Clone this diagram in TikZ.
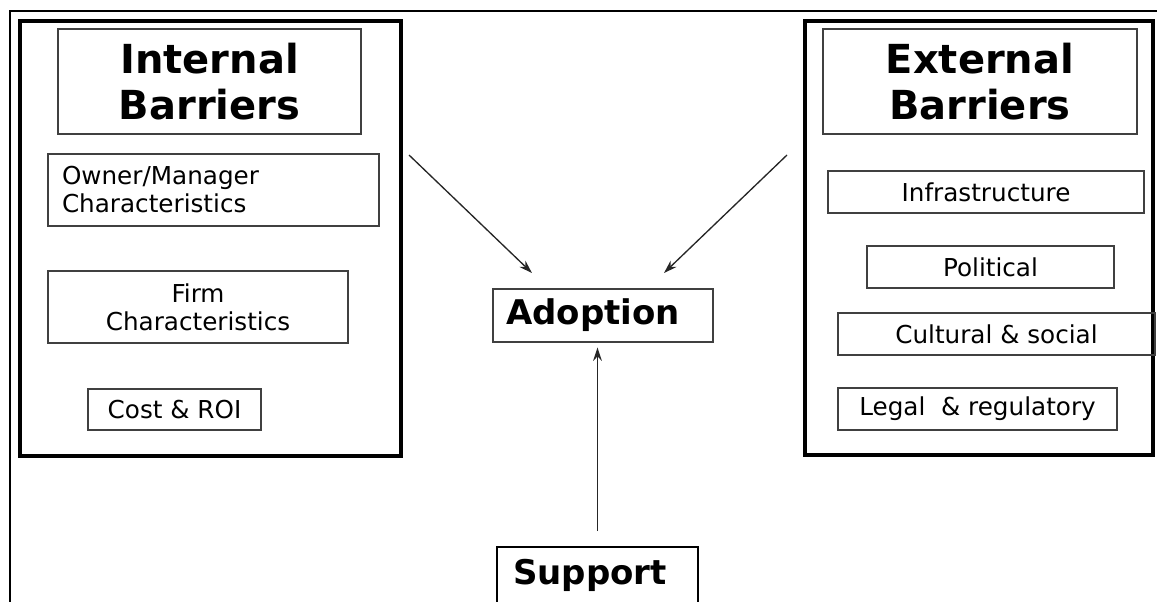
\documentclass[tikz,border=0pt]{standalone}
\usepackage{fontspec}
\setmainfont{DejaVu Sans}
\usetikzlibrary{positioning, arrows.meta}

\tikzset{
	bigbox/.style={draw, line width=2.6pt, inner sep=0pt},
	titlebox/.style={draw=black!75, line width=1.2pt, align=center, font=\bfseries\fontsize{30}{35}\selectfont},
	itembox/.style={draw=black!75, line width=1.2pt, align=center, inner sep=0pt, font=\fontsize{18.5}{21}\selectfont},
	keybox/.style={draw=black!75, line width=1.2pt, align=left, font=\bfseries\fontsize{25.5}{30}\selectfont},
	arr/.style={-{Stealth[length=10pt,width=6.5pt]}, line width=1pt, black!85}
}

\begin{document}
\begin{tikzpicture}[x=0.75pt, y=-0.75pt]
	\useasboundingbox (0,0) rectangle (1157,601);
	\draw[line width=1.4pt] (10,605) -- (10,11) -- (1160,11);
	\node[bigbox, minimum width=285.75pt, minimum height=326.25pt] (intbox) at (210.5,238.5) {};
	\node[titlebox, minimum width=227.25pt, minimum height=78.75pt] (inttitle) at (209.5,81.5) {Internal\\Barriers};
	\node[itembox, align=left, text width=227.25pt, inner xsep=10.5pt, minimum height=54pt] (owner) at (213.5,190) {Owner/Manager\\Characteristics};
	\node[itembox, minimum width=225pt, minimum height=54pt] (firm) at (198,307) {Firm\\Characteristics};
	\node[itembox, minimum width=129.75pt, minimum height=30.75pt] (cost) at (174.5,409.5) {Cost \& ROI};
	\node[bigbox, minimum width=261pt, minimum height=325.5pt] (extbox) at (979,238) {};
	\node[titlebox, minimum width=235.5pt, minimum height=78.75pt] (exttitle) at (980,81.5) {External\\Barriers};
	\node[itembox, minimum width=237pt, minimum height=31.5pt] (infra) at (986,192) {Infrastructure};
	\node[itembox, minimum width=185.25pt, minimum height=31.5pt] (political) at (990.5,267) {Political};
	\node[itembox, minimum width=237.75pt, minimum height=31.5pt] (cultural) at (996.5,334) {Cultural \& social};
	\node[itembox, minimum width=209.25pt, minimum height=31.5pt] (legal) at (977.5,409) {Legal\ \ \& regulatory};
	\node[keybox, text width=145.5pt, inner xsep=9.75pt, minimum height=39.75pt] (adoption) at (603,315.5) {Adoption};
	\node[keybox, draw=black, line width=1.8pt, text width=126.75pt, inner xsep=12pt, minimum height=42pt] (support) at (597.5,575) {Support};
	\coordinate (lfrom) at (409,155);
	\coordinate (lto) at (532,273);
	\coordinate (rfrom) at (787,155);
	\coordinate (rto) at (664,273);
	\draw[arr] (lfrom) -- (lto);
	\draw[arr] (rfrom) -- (rto);
	\draw[arr, shorten <=11pt, shorten >=3.5pt] (support.north) -- (support.north |- adoption.south);
\end{tikzpicture}
\end{document}
